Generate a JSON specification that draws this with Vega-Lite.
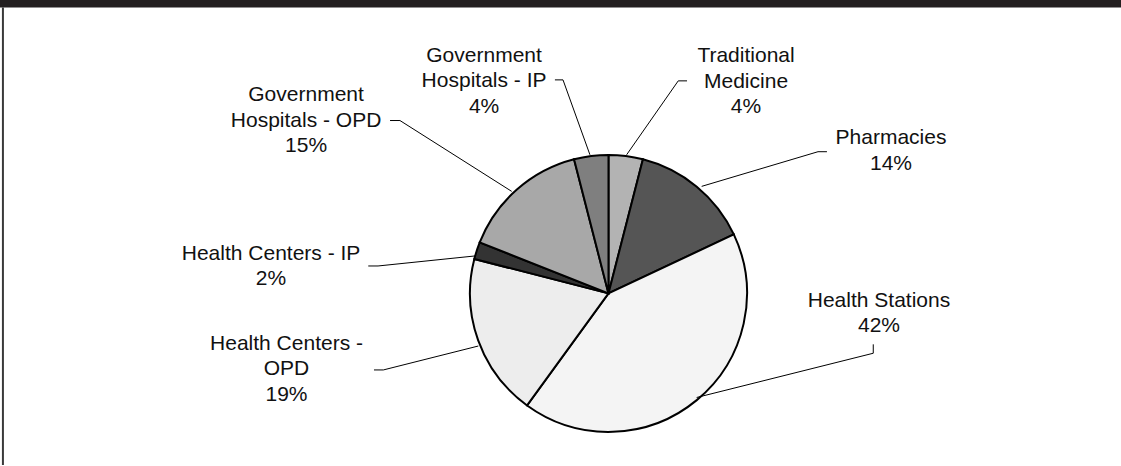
{
  "$schema": "https://vega.github.io/schema/vega-lite/v6.json",
  "width": 1121,
  "height": 466,
  "autosize": {"type": "fit", "contains": "padding"},
  "padding": 0,
  "background": "white",
  "config": {"view": {"stroke": null}},
  "datasets": {
    "slices": [
      {"category": "Traditional Medicine", "share": 4, "rank": 1},
      {"category": "Pharmacies", "share": 14, "rank": 2},
      {"category": "Health Stations", "share": 42, "rank": 3},
      {"category": "Health Centers - OPD", "share": 19, "rank": 4},
      {"category": "Health Centers - IP", "share": 2, "rank": 5},
      {"category": "Government Hospitals - OPD", "share": 15, "rank": 6},
      {"category": "Government Hospitals - IP", "share": 4, "rank": 7}
    ],
    "labels": [
      {"category": "Government Hospitals - IP", "text": "Government\nHospitals - IP\n4%", "lx": -0.892, "ly": 1.708},
      {"category": "Traditional Medicine", "text": "Traditional\nMedicine\n4%", "lx": 0.986, "ly": 1.705},
      {"category": "Government Hospitals - OPD", "text": "Government\nHospitals - OPD\n15%", "lx": -2.168, "ly": 1.422},
      {"category": "Pharmacies", "text": "Pharmacies\n14%", "lx": 2.025, "ly": 1.113},
      {"category": "Health Stations", "text": "Health Stations\n42%", "lx": 1.939, "ly": -0.054},
      {"category": "Health Centers - IP", "text": "Health Centers - IP\n2%", "lx": -2.419, "ly": 0.285},
      {"category": "Health Centers - OPD", "text": "Health Centers -\nOPD\n19%", "lx": -2.308, "ly": -0.362}
    ],
    "leaders": [
      {"category": "Government Hospitals - IP", "pt": 1, "lx": -0.384, "ly": 1.534},
      {"category": "Government Hospitals - IP", "pt": 2, "lx": -0.326, "ly": 1.534},
      {"category": "Government Hospitals - IP", "pt": 3, "lx": -0.133, "ly": 0.996},
      {"category": "Traditional Medicine", "pt": 1, "lx": 0.563, "ly": 1.527},
      {"category": "Traditional Medicine", "pt": 2, "lx": 0.5, "ly": 1.527},
      {"category": "Traditional Medicine", "pt": 3, "lx": 0.13, "ly": 0.996},
      {"category": "Government Hospitals - OPD", "pt": 1, "lx": -1.566, "ly": 1.242},
      {"category": "Government Hospitals - OPD", "pt": 2, "lx": -1.495, "ly": 1.242},
      {"category": "Government Hospitals - OPD", "pt": 3, "lx": -0.694, "ly": 0.733},
      {"category": "Pharmacies", "pt": 1, "lx": 1.566, "ly": 1.018},
      {"category": "Pharmacies", "pt": 2, "lx": 1.502, "ly": 1.018},
      {"category": "Pharmacies", "pt": 3, "lx": 0.668, "ly": 0.769},
      {"category": "Health Centers - IP", "pt": 1, "lx": -1.722, "ly": 0.197},
      {"category": "Health Centers - IP", "pt": 2, "lx": -1.652, "ly": 0.197},
      {"category": "Health Centers - IP", "pt": 3, "lx": -0.957, "ly": 0.269},
      {"category": "Health Centers - OPD", "pt": 1, "lx": -1.681, "ly": -0.55},
      {"category": "Health Centers - OPD", "pt": 2, "lx": -1.614, "ly": -0.55},
      {"category": "Health Centers - OPD", "pt": 3, "lx": -0.933, "ly": -0.378},
      {"category": "Health Stations", "pt": 1, "lx": 1.898, "ly": -0.366},
      {"category": "Health Stations", "pt": 2, "lx": 1.898, "ly": -0.43},
      {"category": "Health Stations", "pt": 3, "lx": 0.632, "ly": -0.748}
    ]
  },
  "layer": [
    {
      "data": {"values": [{}]},
      "mark": {"type": "rect", "fill": "#231f20"},
      "encoding": {
        "x": {"datum": -4.362, "type": "quantitative", "scale": {"domain": [-4.362, 3.674], "nice": false, "zero": false}, "axis": null},
        "x2": {"datum": 3.674},
        "y": {"datum": 2.108, "type": "quantitative", "scale": {"domain": [-1.233, 2.108], "nice": false, "zero": false}, "axis": null},
        "y2": {"datum": 2.054}
      }
    },
    {
      "data": {"values": [{}]},
      "mark": {"type": "rule", "stroke": "#3a3a3a", "strokeWidth": 2},
      "encoding": {
        "x": {"datum": -4.341, "type": "quantitative", "scale": {"domain": [-4.362, 3.674], "nice": false, "zero": false}, "axis": null},
        "y": {"datum": -1.233, "type": "quantitative", "scale": {"domain": [-1.233, 2.108], "nice": false, "zero": false}, "axis": null},
        "y2": {"datum": 2.054}
      }
    },
    {
      "data": {"name": "slices"},
      "mark": {"type": "arc", "radius": 138.5, "stroke": "#000000", "strokeWidth": 2},
      "encoding": {
        "x": {"datum": 0, "type": "quantitative", "scale": {"domain": [-4.362, 3.674], "nice": false, "zero": false}, "axis": null},
        "y": {"datum": 0, "type": "quantitative", "scale": {"domain": [-1.233, 2.108], "nice": false, "zero": false}, "axis": null},
        "theta": {"field": "share", "type": "quantitative", "stack": true},
        "order": {"field": "rank", "type": "quantitative", "sort": "ascending"},
        "color": {
          "field": "category",
          "type": "nominal",
          "legend": null,
          "scale": {
            "domain": ["Traditional Medicine", "Pharmacies", "Health Stations", "Health Centers - OPD", "Health Centers - IP", "Government Hospitals - OPD", "Government Hospitals - IP"],
            "range": ["#b3b3b3", "#555555", "#f4f4f4", "#ededed", "#333333", "#a8a8a8", "#7f7f7f"]
          }
        }
      }
    },
    {
      "data": {"name": "leaders"},
      "mark": {"type": "line", "stroke": "#000000", "strokeWidth": 1},
      "encoding": {
        "x": {"field": "lx", "type": "quantitative", "scale": {"domain": [-4.362, 3.674], "nice": false, "zero": false}, "axis": null},
        "y": {"field": "ly", "type": "quantitative", "scale": {"domain": [-1.233, 2.108], "nice": false, "zero": false}, "axis": null},
        "detail": {"field": "category", "type": "nominal"},
        "order": {"field": "pt", "type": "quantitative"}
      }
    },
    {
      "data": {"name": "labels"},
      "mark": {"type": "text", "font": "Liberation Sans", "fontSize": 21, "lineHeight": 25.5, "lineBreak": "\n", "align": "center", "baseline": "middle", "fill": "#111111"},
      "encoding": {
        "x": {"field": "lx", "type": "quantitative", "scale": {"domain": [-4.362, 3.674], "nice": false, "zero": false}, "axis": null},
        "y": {"field": "ly", "type": "quantitative", "scale": {"domain": [-1.233, 2.108], "nice": false, "zero": false}, "axis": null},
        "text": {"field": "text", "type": "nominal"}
      }
    }
  ]
}
